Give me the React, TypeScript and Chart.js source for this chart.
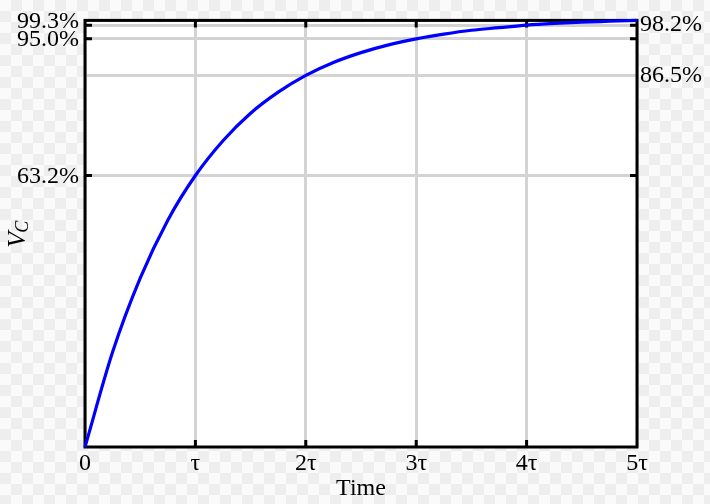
import React, { useEffect, useRef } from "react";
import { Chart, registerables } from "chart.js";

Chart.register(...registerables);

// Time in units of tau
const timeValues = [0, 0.25, 0.5, 0.75, 1, 1.25, 1.5, 1.75, 2, 2.25, 2.5, 2.75, 3, 3.25, 3.5, 3.75, 4, 4.25, 4.5, 4.75, 5];
// Capacitor voltage as a fraction of the supply
const vcValues = [0, 0.221, 0.393, 0.528, 0.632, 0.713, 0.777, 0.826, 0.865, 0.895, 0.918, 0.936, 0.95, 0.961, 0.97, 0.976, 0.982, 0.986, 0.989, 0.991, 0.993];

const xTickValues = [0, 1, 2, 3, 4, 5];
const xTickLabels = ["0", "τ", "2τ", "3τ", "4τ", "5τ"];
const leftTickValues = [0.632, 0.95, 0.993];
const leftTickLabels = ["63.2%", "95.0%", "99.3%"];
const rightTickValues = [0.865, 0.982];
const rightTickLabels = ["86.5%", "98.2%"];
const innerTickValues = [0.632, 0.95, 0.982];
const innerXTickValues = [1, 2, 3, 4];

const FONT = "'Liberation Serif', 'Times New Roman', serif";

const framePlugin = {
  id: "frame",
  beforeDraw(chart: any) {
    const { ctx, chartArea: a } = chart;
    ctx.save();
    ctx.fillStyle = "#ffffff";
    ctx.fillRect(a.left, a.top, a.right - a.left, a.bottom - a.top);
    ctx.restore();
  },
  beforeDatasetsDraw(chart: any) {
    const { ctx, chartArea: a } = chart;
    const xs = chart.scales.x;
    const ys = chart.scales.y;
    ctx.save();
    ctx.strokeStyle = "#000000";
    ctx.lineWidth = 3;
    ctx.strokeRect(a.left, a.top, a.right - a.left, a.bottom - a.top);
    const len = 7;
    ctx.beginPath();
    for (const t of innerXTickValues) {
      const px = xs.getPixelForValue(t);
      ctx.moveTo(px, a.bottom);
      ctx.lineTo(px, a.bottom - len);
      ctx.moveTo(px, a.top);
      ctx.lineTo(px, a.top + len);
    }
    for (const v of innerTickValues) {
      const py = ys.getPixelForValue(v);
      ctx.moveTo(a.left, py);
      ctx.lineTo(a.left + len, py);
      ctx.moveTo(a.right, py);
      ctx.lineTo(a.right - len, py);
    }
    ctx.stroke();

    // Y axis title: V with subscript C, rotated
    const cy = (a.top + a.bottom) / 2;
    ctx.translate(25, cy);
    ctx.rotate(-Math.PI / 2);
    ctx.fillStyle = "#000000";
    ctx.textBaseline = "alphabetic";
    ctx.textAlign = "left";
    const fV = `italic 26px ${FONT}`;
    const fC = `italic 18px ${FONT}`;
    ctx.font = fV;
    const wV = ctx.measureText("V").width;
    ctx.font = fC;
    const wC = ctx.measureText("C").width;
    const start = -(wV + wC) / 2;
    ctx.font = fV;
    ctx.fillText("V", start, 0);
    ctx.font = fC;
    ctx.fillText("C", start + wV - 1, 3);
    ctx.restore();
  },
};

export default function App() {
  const canvasRef = useRef<HTMLCanvasElement | null>(null);

  useEffect(() => {
    if (!canvasRef.current) return;
    const tickFont = { family: FONT, size: 24 };
    const chart = new Chart(canvasRef.current, {
      type: "line",
      data: {
        datasets: [
          {
            data: timeValues.map((t, i) => ({ x: t, y: vcValues[i] })),
            borderColor: "#0000ff",
            borderWidth: 3.2,
            pointRadius: 0,
            fill: false,
            cubicInterpolationMode: "monotone",
            yAxisID: "y",
            clip: 6,
          } as any,
        ],
      },
      options: {
        animation: false,
        responsive: false,
        devicePixelRatio: 1,
        layout: { padding: { top: 19, left: 0, right: 0, bottom: 0 } },
        plugins: { legend: { display: false }, tooltip: { enabled: false } },
        scales: {
          x: {
            type: "linear",
            position: "bottom",
            min: 0,
            max: 5,
            afterBuildTicks: (s: any) => {
              s.ticks = xTickValues.map((v) => ({ value: v }));
            },
            afterFit: (s: any) => {
              s.height = 57;
            },
            ticks: {
              callback: (v: any) => xTickLabels[xTickValues.indexOf(Number(v))],
              font: tickFont,
              color: "#000",
              padding: 2,
              maxRotation: 0,
              autoSkip: false,
            },
            grid: { color: "#d3d3d3", lineWidth: 3, drawTicks: false },
            border: { display: false },
            title: {
              display: true,
              text: "Time",
              font: tickFont,
              color: "#000",
              padding: { top: 0, bottom: 1 },
            },
          },
          y: {
            type: "linear",
            position: "left",
            min: 0,
            max: 0.993,
            afterBuildTicks: (s: any) => {
              s.ticks = leftTickValues.map((v) => ({ value: v }));
            },
            afterFit: (s: any) => {
              s.width = 85;
            },
            ticks: {
              callback: (v: any) => leftTickLabels[leftTickValues.indexOf(Number(v))],
              font: tickFont,
              color: "#000",
              padding: 6,
              labelOffset: 1,
              autoSkip: false,
            },
            grid: { color: "#d3d3d3", lineWidth: 3, drawTicks: false },
            border: { display: false },
          },
          y2: {
            type: "linear",
            position: "right",
            min: 0,
            max: 0.993,
            afterBuildTicks: (s: any) => {
              s.ticks = rightTickValues.map((v) => ({ value: v }));
            },
            afterFit: (s: any) => {
              s.width = 73;
            },
            ticks: {
              callback: (v: any) => rightTickLabels[rightTickValues.indexOf(Number(v))],
              font: tickFont,
              color: "#000",
              padding: 3,
              labelOffset: 0,
              autoSkip: false,
            },
            grid: { color: "#d3d3d3", lineWidth: 3, drawTicks: false },
            border: { display: false },
          },
        },
      } as any,
      plugins: [framePlugin],
    });
    return () => chart.destroy();
  }, []);

  return (
    <div
      style={{
        position: "fixed",
        left: 0,
        top: 0,
        width: 710,
        height: 504,
        backgroundColor: "#fafafa",
        backgroundImage:
          "conic-gradient(#eeeeee 25%, #fafafa 0 50%, #eeeeee 0 75%, #fafafa 0)",
        backgroundSize: "22px 22px",
      }}
    >
      <canvas ref={canvasRef} width={710} height={504} style={{ display: "block" }} />
    </div>
  );
}
